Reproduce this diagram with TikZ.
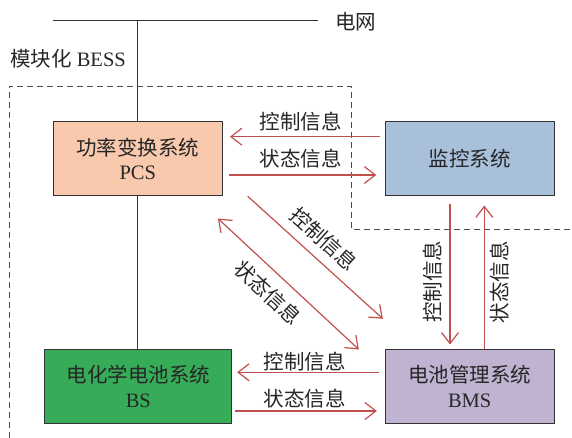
\documentclass[tikz,border=0pt]{standalone}
\usepackage{fontspec}
\setmainfont{Liberation Serif}
\newfontfamily\cjk{Noto Sans CJK SC}
\usetikzlibrary{arrows.meta}
\definecolor{arrred}{HTML}{C0504D}
\definecolor{pcsfill}{HTML}{F8C9AD}
\definecolor{monfill}{HTML}{A9C0DB}
\definecolor{bsfill}{HTML}{36AB58}
\definecolor{bmsfill}{HTML}{BFB3D1}
\definecolor{txtgray}{HTML}{262626}
\definecolor{edgegray}{HTML}{333333}
\newcommand{\fsz}{\fontsize{20.5}{24.5}\selectfont}
\tikzset{
  sysbox/.style={draw=edgegray, line width=1pt, minimum height=74pt, align=center,
    inner sep=0pt, text=txtgray, font=\fsz},
  infoarrow/.style={draw=arrred, line width=1.2pt, -{Straight Barb[length=11pt,width=17pt,line width=1.2pt]}},
  infolbl/.style={font=\cjk\fsz, text=txtgray, inner sep=0pt},
  wire/.style={draw=edgegray, line width=1pt},
  region/.style={draw=black!70, line width=0.9pt, dash pattern=on 6pt off 4pt}
}
\begin{document}
\begin{tikzpicture}[x=1pt,y=-1pt]
\useasboundingbox (0,0) rectangle (572,438);
% dashed region
\draw[region] (9.3,438) -- (9.3,86) -- (351,86) -- (351,229) -- (572,229);
% grid
\coordinate (gridL) at (53.3,20.7);
\coordinate (gridR) at (318.3,20.7);
\draw[wire] (gridL) -- (gridR);
\node[infolbl, anchor=west] (grid) at (335,21.7) {电网};
\node[anchor=west, inner sep=0pt, text=txtgray, font=\fsz] (bess) at (10,58.3) {{\cjk 模块化} BESS};
% boxes
\node[sysbox, fill=pcsfill, minimum width=169.3pt] (pcs) at (137.8,158.7) {{\cjk 功率变换系统}\\PCS};
\node[sysbox, fill=monfill, minimum width=169.3pt] (mon) at (469.7,158.7) {{\cjk 监控系统}};
\node[sysbox, fill=bsfill, minimum width=186.7pt] (bs) at (138.3,386.3) {{\cjk 电化学电池系统}\\BS};
\node[sysbox, fill=bmsfill, minimum width=169.3pt] (bms) at (469.7,386.3) {{\cjk 电池管理系统}\\BMS};
% wires
\draw[wire] (pcs.north) -- (pcs.north |- gridL);
\draw[wire] (pcs.south) -- (pcs.south |- bs.north);
% PCS <-> monitor
\draw[infoarrow] ([xshift=-5pt,yshift=22pt]mon.west) -- ([xshift=7pt,yshift=22pt]pcs.east);
\draw[infoarrow] ([xshift=5.7pt,yshift=-16.3pt]pcs.east) -- ([xshift=-8.3pt,yshift=-16.3pt]mon.west);
\node[infolbl] (l1) at (300.5,121.7) {控制信息};
\node[infolbl] (l2) at (300.5,158.3) {状态信息};
% BS <-> BMS
\draw[infoarrow] ([xshift=-5.7pt,yshift=14pt]bms.west) -- ([xshift=5pt,yshift=14pt]bs.east);
\draw[infoarrow] ([xshift=3.3pt,yshift=-24.7pt]bs.east) -- ([xshift=-7.7pt,yshift=-24.7pt]bms.west);
\node[infolbl] (l3) at (304.7,361.7) {控制信息};
\node[infolbl] (l4) at (304.7,398.3) {状态信息};
% monitor <-> BMS
\draw[infoarrow] ([xshift=-19.7pt,yshift=-7.6pt]mon.south) -- ([xshift=-19.7pt,yshift=4.3pt]bms.north);
\draw[infoarrow] ([xshift=14.6pt]bms.north) -- ([xshift=14.6pt,yshift=-9.3pt]mon.south);
\node[infolbl, rotate=90] (l5) at (432.5,281.7) {控制信息};
\node[infolbl, rotate=90] (l6) at (500,282) {状态信息};
% PCS <-> BMS diagonals
\draw[infoarrow] ([xshift=24.7pt]pcs.south east) -- ([xshift=-1.7pt,yshift=30pt]bms.north west);
\draw[infoarrow, {Straight Barb[length=11pt,width=17pt,line width=1.2pt]}-{Straight Barb[length=11pt,width=17pt,line width=1.2pt]}] ([xshift=-25.7pt,yshift=-0.7pt]bms.north west) -- ([xshift=-5pt,yshift=-22.3pt]pcs.south east);
\node[infolbl, rotate=-42.3] (l7) at (324,239) {控制信息};
\node[infolbl, rotate=-42.9] (l8) at (268,292.5) {状态信息};
\end{tikzpicture}
\end{document}
